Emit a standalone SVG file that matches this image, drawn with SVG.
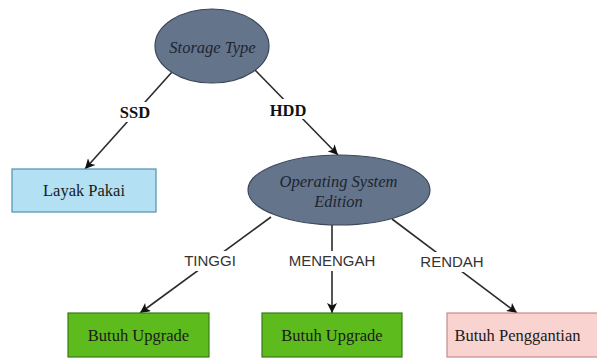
<svg xmlns="http://www.w3.org/2000/svg" width="597" height="358" viewBox="0 0 597 358">
  <style>
    .ell { fill: #64748a; stroke: #3b475a; stroke-width: 1.2; }
    .etxt { font-family: "Liberation Serif", serif; font-style: italic; font-size: 16.5px; fill: #1c2433; text-anchor: middle; }
    .box { stroke-width: 1.2; }
    .btxt { font-family: "Liberation Serif", serif; font-size: 16.5px; fill: #1a1a1a; text-anchor: middle; }
    .edge { stroke: #2b2b2b; stroke-width: 1.6; fill: none; marker-end: url(#arrow); }
    .lbl-bold { font-family: "Liberation Serif", serif; font-weight: bold; font-size: 16.5px; fill: #111; text-anchor: middle; }
    .lbl { font-family: "Liberation Sans", Arial, sans-serif; font-size: 15px; fill: #333; text-anchor: middle; }
    .lblbg { fill: #ffffff; }
  </style>
  <defs>
    <marker id="arrow" viewBox="0 0 10 10" refX="10" refY="5" markerWidth="11" markerHeight="10" markerUnits="userSpaceOnUse" orient="auto">
      <path d="M0,0 L10,5 L0,10 L2.5,5 Z" fill="#111"/>
    </marker>
  </defs>
  <rect width="597" height="358" fill="#ffffff"/>

  <g id="connectors">
    <line class="edge" x1="172" y1="72" x2="85" y2="169"/>
    <line class="edge" x1="255" y1="70" x2="338" y2="155"/>
    <line class="edge" x1="271" y1="217" x2="140" y2="313"/>
    <line class="edge" x1="332" y1="225" x2="332" y2="313"/>
    <line class="edge" x1="392" y1="219" x2="517" y2="313"/>

    <rect class="lblbg" x="118" y="102" width="34" height="20"/>
    <text class="lbl-bold" x="135" y="118">SSD</text>
    <rect class="lblbg" x="267" y="99" width="42" height="20"/>
    <text class="lbl-bold" x="288" y="116">HDD</text>

    <rect class="lblbg" x="181" y="251" width="58" height="20"/>
    <text class="lbl" x="210" y="266">TINGGI</text>
    <rect class="lblbg" x="285" y="251" width="94" height="20"/>
    <text class="lbl" x="332" y="266">MENENGAH</text>
    <rect class="lblbg" x="420" y="252" width="64" height="20"/>
    <text class="lbl" x="452" y="267">RENDAH</text>
  </g>

  <g id="storage-type">
    <ellipse class="ell" cx="212" cy="46" rx="57" ry="37"/>
    <text class="etxt" x="212.5" y="53">Storage Type</text>
  </g>

  <g id="layak-pakai">
    <rect class="box" x="12" y="169" width="144" height="43" fill="#b3e0f2" stroke="#4d8fb3"/>
    <text class="btxt" x="84" y="196">Layak Pakai</text>
  </g>

  <g id="os-edition">
    <ellipse class="ell" cx="339" cy="190" rx="91" ry="35"/>
    <text class="etxt" x="338.5" y="187">Operating System</text>
    <text class="etxt" x="338.5" y="207">Edition</text>
  </g>

  <g id="upgrade-tinggi">
    <rect class="box" x="68" y="313" width="141" height="44" fill="#5dbb1e" stroke="#3b7a16"/>
    <text class="btxt" x="138.5" y="341">Butuh Upgrade</text>
  </g>

  <g id="upgrade-menengah">
    <rect class="box" x="262" y="313" width="140" height="44" fill="#5dbb1e" stroke="#3b7a16"/>
    <text class="btxt" x="332" y="341">Butuh Upgrade</text>
  </g>

  <g id="penggantian-rendah">
    <rect class="box" x="447" y="313" width="156" height="44" fill="#f9d3cf" stroke="#c98a84"/>
    <text class="btxt" x="517.5" y="341">Butuh Penggantian</text>
  </g>
</svg>
